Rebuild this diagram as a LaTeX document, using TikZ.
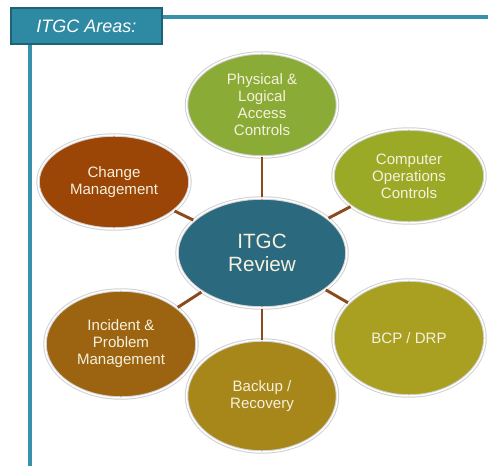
\documentclass[tikz,border=0pt]{standalone}
\usepackage{fontspec}
\setmainfont{Liberation Sans}
\usetikzlibrary{shapes.geometric}

\definecolor{frameblue}{RGB}{56,145,172}
\definecolor{titlefill}{RGB}{46,137,163}
\definecolor{titledraw}{RGB}{30,98,120}
\definecolor{linkbrown}{RGB}{139,74,30}
\definecolor{hubteal}{RGB}{43,106,126}
\definecolor{accgreen}{RGB}{138,171,54}
\definecolor{opsgreen}{RGB}{155,170,38}
\definecolor{bcpolive}{RGB}{169,160,34}
\definecolor{bakgold}{RGB}{168,135,26}
\definecolor{incbrown}{RGB}{156,100,16}
\definecolor{chgrust}{RGB}{155,69,6}
\definecolor{labelcream}{RGB}{245,241,222}

\tikzset{every picture/.style={line width=0.75pt}}
\tikzset{
  area/.style={ellipse, inner sep=0pt, align=center, text=labelcream,
    draw=black!18, double=white, double distance=1.1pt,
    font=\fontsize{11.3}{12.8}\selectfont},
  link/.style={draw=linkbrown, line width=2.2pt},
  frame/.style={draw=frameblue, line width=2.3pt}
}

\begin{document}
\begin{tikzpicture}[x=0.75pt,y=0.75pt,yscale=-1,xscale=1]
\useasboundingbox (0,0) rectangle (488,466);
% Title box
\node (title) [draw=titledraw, line width=1.5pt, fill=titlefill, text=white, minimum width=113.25pt, minimum height=27pt, inner sep=0pt, font=\fontsize{13.5}{16}\selectfont\itshape] at (86.5,26) {ITGC Areas:};
\coordinate (topEnd) at (488,17);
\coordinate (leftEnd) at (30,466);
%Straight Lines
\draw [frame] (title.east |- topEnd) -- (topEnd);
\draw [frame] (title.south -| leftEnd) -- (leftEnd);

%Shape: Ellipse
\node (hub) [area, fill=hubteal, minimum width=127.5pt, minimum height=82.5pt, font=\fontsize{15.5}{17.5}\selectfont] at (262,253) {ITGC\\Review};
\node (access) [area, fill=accgreen, minimum width=113.25pt, minimum height=78pt] at (262,105) {Physical \&\\Logical\\Access\\Controls};
\node (ops) [area, fill=opsgreen, minimum width=114pt, minimum height=70.5pt] at (409,176) {Computer\\Operations\\Controls};
\node (bcp) [area, fill=bcpolive, minimum width=114pt, minimum height=87pt] at (409,338) {BCP / DRP};
\node (backup) [area, fill=bakgold, minimum width=113.25pt, minimum height=84pt] at (262,396) {Backup /\\Recovery};
\node (incident) [area, fill=incbrown, minimum width=114pt, minimum height=81pt] at (121,344) {Incident \&\\Problem\\Management};
\node (change) [area, fill=chgrust, minimum width=114pt, minimum height=70.5pt] at (114,182) {Change\\Management};

% Links
\foreach \n in {access,ops,bcp,backup,incident,change}
  \draw [link] (hub) -- (\n);

\end{tikzpicture}
\end{document}
